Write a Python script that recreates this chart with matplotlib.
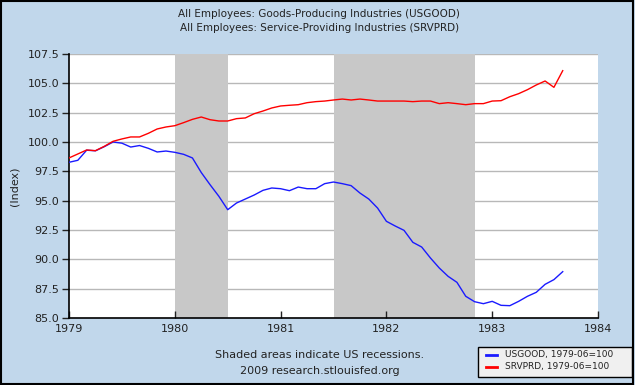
import matplotlib
matplotlib.use("Agg")
import matplotlib.pyplot as plt
from matplotlib.patches import Rectangle
from matplotlib.lines import Line2D
import numpy as np

# monthly index values, Jan 1979 .. Sep 1983 (1979-06 = 100)
start_year = 1979
usgood = [98.27, 98.44, 99.30, 99.25, 99.60, 100.00, 99.90, 99.57, 99.70, 99.46,
          99.15, 99.23, 99.12, 98.95, 98.64, 97.40, 96.36, 95.37, 94.23, 94.80,
          95.14, 95.48, 95.88, 96.08, 96.02, 95.85, 96.16, 96.02, 96.02, 96.45,
          96.59, 96.45, 96.28, 95.65, 95.14, 94.37, 93.24, 92.84, 92.47, 91.45,
          91.05, 90.11, 89.26, 88.55, 88.04, 86.85, 86.39, 86.22, 86.42, 86.08,
          86.05, 86.42, 86.85, 87.19, 87.87, 88.27, 88.95]
srvprd = [98.64, 98.98, 99.32, 99.26, 99.63, 100.06, 100.26, 100.43, 100.43, 100.74,
          101.11, 101.28, 101.39, 101.65, 101.93, 102.13, 101.90, 101.79, 101.79, 101.99,
          102.05, 102.41, 102.64, 102.90, 103.07, 103.13, 103.18, 103.35, 103.44, 103.49,
          103.58, 103.66, 103.58, 103.66, 103.58, 103.49, 103.49, 103.49, 103.49, 103.44,
          103.49, 103.49, 103.27, 103.35, 103.27, 103.18, 103.27, 103.27, 103.49, 103.52,
          103.86, 104.12, 104.46, 104.86, 105.20, 104.66, 106.08]
recessions = [(1980.0, 1980.5), (1981.5, 1982 + 10 / 12)]
yticks = [85.0, 87.5, 90.0, 92.5, 95.0, 97.5, 100.0, 102.5, 105.0, 107.5]
xticks = [1979, 1980, 1981, 1982, 1983, 1984]

bg = "#c1d7eb"
t = start_year + np.arange(len(usgood)) / 12

fig = plt.figure(figsize=(6.35, 3.85), dpi=100, facecolor=bg)
ax = fig.add_axes([69 / 635, 67 / 385, 529 / 635, 264 / 385])
ax.set_facecolor("white")

for a, b in recessions:
    ax.axvspan(a, b, color="#c8c8c8", lw=0, zorder=1)
for y in yticks:
    ax.axhline(y, color="#b8b8b8", lw=1, zorder=0.5)

ax.plot(t, usgood, color="#1a1aff", lw=1, zorder=3)
ax.plot(t, srvprd, color="#ff0000", lw=1, zorder=3)

ax.set_xlim(1979, 1984)
ax.set_ylim(85, 107.5)
ax.set_xticks(xticks)
ax.set_xticklabels([str(x) for x in xticks], fontsize=8)
ax.set_yticks(yticks)
ax.set_yticklabels([f"{y:.1f}" for y in yticks], fontsize=8)
ax.tick_params(axis="y", direction="out", length=5, width=1, pad=2, colors="#222222")
ax.tick_params(axis="x", direction="in", length=5, width=1, pad=4, colors="#222222")
for s in ["top", "right"]:
    ax.spines[s].set_visible(False)
for s in ["left", "bottom"]:
    ax.spines[s].set_color("black")
    ax.spines[s].set_linewidth(1.2)
ax.set_ylabel("(Index)", fontsize=8, color="#222222", labelpad=6)

fig.text(0.503, 1 - 14 / 385, "All Employees: Goods-Producing Industries (USGOOD)",
         ha="center", va="center", fontsize=7.5, color="#222222")
fig.text(0.503, 1 - 28 / 385, "All Employees: Service-Providing Industries (SRVPRD)",
         ha="center", va="center", fontsize=7.5, color="#222222")
fig.text(320 / 635, 1 - 355 / 385, "Shaded areas indicate US recessions.",
         ha="center", va="center", fontsize=8, color="#222222")
fig.text(320 / 635, 1 - 371 / 385, "2009 research.stlouisfed.org",
         ha="center", va="center", fontsize=8, color="#222222")

# legend box
fig.patches.append(Rectangle((478 / 635, 1 - 377 / 385), 154 / 635, 30 / 385,
                             transform=fig.transFigure, facecolor="#f0f0f0",
                             edgecolor="black", lw=1))
for yy, col, lab in [(355, "#1a1aff", "USGOOD, 1979-06=100"),
                     (367, "#ff0000", "SRVPRD, 1979-06=100")]:
    fig.lines.append(Line2D([486 / 635, 497 / 635], [1 - yy / 385] * 2,
                            transform=fig.transFigure, color=col, lw=2))
    fig.text(505 / 635, 1 - yy / 385, lab, ha="left", va="center",
             fontsize=6.5, color="#222222")

# outer border
fig.patches.append(Rectangle((0.002, 0.003), 0.995, 0.994, transform=fig.transFigure,
                             fill=False, edgecolor="black", lw=1.5))

fig.savefig("out.png", dpi=100, facecolor=bg)
